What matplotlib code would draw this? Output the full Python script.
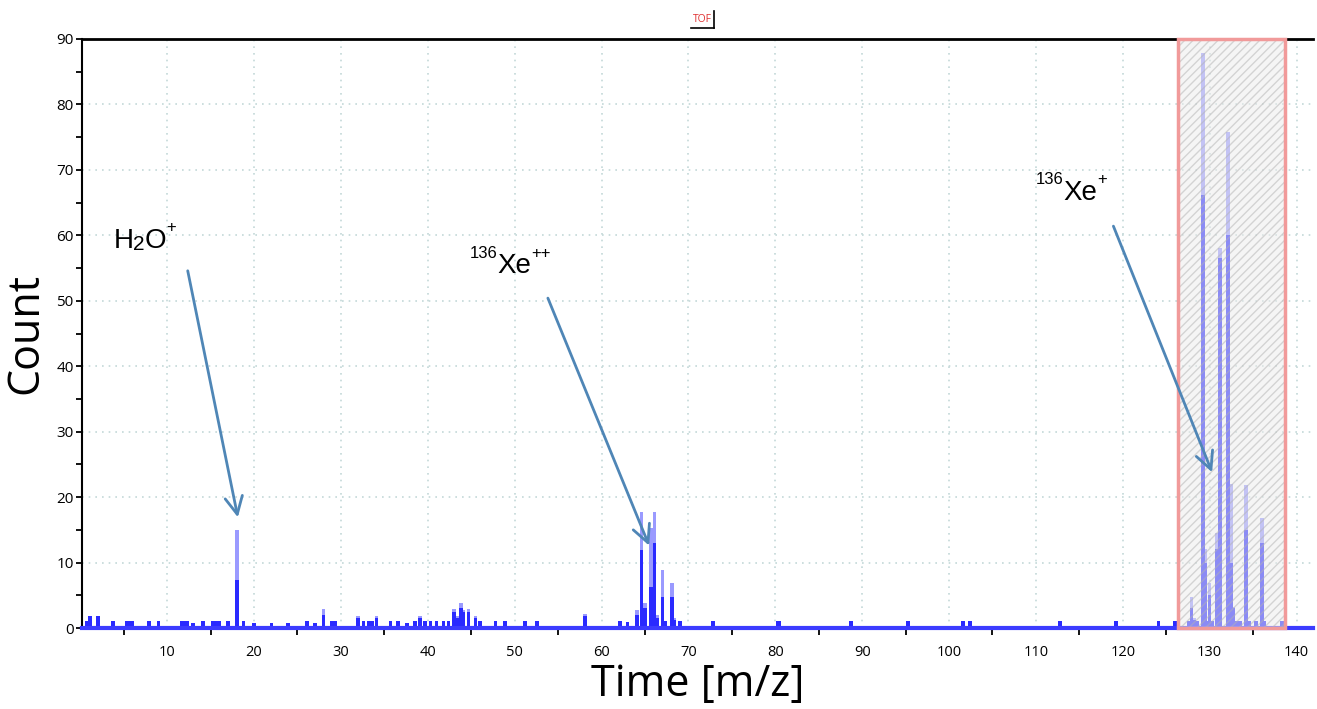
import numpy as np
import matplotlib
matplotlib.use("Agg")
import matplotlib.pyplot as plt
from matplotlib.patches import Rectangle
from matplotlib.lines import Line2D

# peak positions (m/z), full height and the darker core of each spike
peak_pos = [0.8, 1.1, 2.0, 3.8, 5.4, 5.7, 6.0, 7.9, 9.0, 11.7, 12.0, 12.3, 13.0, 14.1,
            15.2, 15.5, 15.8, 16.0, 17.0, 18.07, 18.8, 20.0, 22.0, 23.9, 26.1, 27.0,
            28.0, 29.0, 29.3, 32.0, 32.6, 33.2, 33.6, 34.1, 35.7, 36.6, 37.6, 38.5,
            39.1, 39.7, 40.3, 41.0, 41.8, 42.4, 43.0, 43.4, 43.8, 44.1, 44.7, 45.5,
            46.0, 47.8, 48.9, 51.2, 52.6, 58.1, 62.1, 63.0, 64.1, 64.6, 65.0, 65.7,
            66.1, 66.4, 67.0, 67.3, 68.1, 68.4, 69.0, 72.8, 80.3, 80.5, 88.7, 95.3,
            101.6, 102.4, 112.8, 119.2, 124.1, 126.0, 127.6, 127.9, 128.2, 128.6,
            129.2, 129.45, 129.7, 130.0, 130.3, 130.8, 131.2, 132.1, 132.5, 132.75,
            133.0, 133.5, 134.2, 134.5, 135.3, 136.0, 136.3, 138.3]
peak_height = [1.0, 1.8, 1.8, 1.0, 1.0, 1.0, 1.0, 1.0, 1.0, 1.0, 1.0, 1.0, 0.8, 1.0,
               1.0, 1.0, 1.0, 1.0, 1.0, 15.0, 1.0, 0.8, 0.8, 0.8, 1.0, 0.8,
               2.9, 1.0, 1.0, 1.8, 1.0, 1.0, 1.0, 1.8, 1.0, 1.0, 0.8, 1.0,
               1.8, 1.0, 1.0, 1.0, 1.0, 1.0, 2.9, 1.8, 3.9, 2.8, 2.9, 1.8,
               1.0, 1.0, 1.0, 1.0, 1.0, 2.2, 1.0, 0.9, 2.8, 17.8, 3.8, 15.3,
               17.8, 2.0, 8.9, 1.0, 6.9, 1.5, 1.0, 1.0, 1.0, 1.0, 1.0, 1.0,
               1.0, 1.0, 1.0, 1.0, 1.0, 1.0, 1.0, 4.8, 1.5, 1.0,
               87.8, 12.0, 1.0, 6.9, 1.0, 14.5, 58.0, 75.8, 22.0, 3.2,
               1.0, 1.0, 21.8, 1.0, 1.0, 16.8, 1.0, 1.0]
peak_core = [1.0, 1.8, 1.8, 1.0, 1.0, 1.0, 1.0, 1.0, 1.0, 1.0, 1.0, 1.0, 0.8, 1.0,
             1.0, 1.0, 1.0, 1.0, 1.0, 7.3, 1.0, 0.8, 0.8, 0.8, 1.0, 0.8,
             2.0, 1.0, 1.0, 1.5, 1.0, 1.0, 1.0, 1.5, 1.0, 1.0, 0.8, 1.0,
             1.5, 1.0, 1.0, 1.0, 1.0, 1.0, 2.5, 1.5, 3.0, 2.5, 2.5, 1.5,
             1.0, 1.0, 1.0, 1.0, 1.0, 1.8, 1.0, 0.9, 2.0, 11.9, 3.0, 6.3,
             13.0, 1.5, 4.8, 1.0, 4.8, 1.2, 1.0, 1.0, 1.0, 1.0, 1.0, 1.0,
             1.0, 1.0, 1.0, 1.0, 1.0, 1.0, 1.0, 3.0, 1.2, 1.0,
             66.2, 10.0, 1.0, 5.0, 1.0, 12.0, 56.5, 60.0, 10.0, 3.0,
             1.0, 1.0, 15.0, 1.0, 1.0, 13.0, 1.0, 1.0]

# selected region and annotations
region = (126.3, 138.7)
arrow_tail = [(12.3, 55.0), (53.7, 50.8), (118.8, 61.8)]
arrow_tip = [(18.2, 16.5), (65.6, 12.2), (130.4, 23.4)]

fig = plt.figure(figsize=(13.17, 7.09), dpi=100)
ax = fig.add_axes([0.0623, 0.1142, 0.9347, 0.8308])

tick_font = "Open Sans"
ann_font = "Liberation Sans"

ax.bar(peak_pos, peak_height, width=0.42, color="#9a9aff", linewidth=0, zorder=2)
ax.bar(peak_pos, peak_core, width=0.42, color="#2a2aff", linewidth=0, zorder=3)
ax.axhline(0, color="#3c3cff", lw=3, zorder=4, clip_on=False)

# shaded, hatched selection
ax.add_patch(Rectangle((region[0], 0), region[1] - region[0], 90,
                       facecolor=(0.93, 0.93, 0.93, 0.5), edgecolor=(0.7, 0.7, 0.7, 0.5),
                       hatch="////", lw=0, zorder=5))
ax.add_patch(Rectangle((region[0], 0), region[1] - region[0], 90, fill=False,
                       edgecolor="#f19a9a", lw=2.5, zorder=6, clip_on=False))

ax.set_xlim(0.2, 141.9)
ax.set_ylim(0, 90)
ax.set_xticks(np.arange(10, 141, 10))
ax.set_xticks(np.arange(5, 141, 10), minor=True)
ax.set_yticks(np.arange(0, 91, 10))
ax.set_yticks(np.arange(5, 90, 10), minor=True)
ax.tick_params(axis="both", which="both", direction="out", length=4, width=1.3,
               colors="black", labelsize=11, pad=2)
ax.tick_params(axis="x", which="major", length=0, pad=12, labelsize=10.5)
ax.tick_params(axis="x", which="minor", length=5)
for lab in ax.get_xticklabels() + ax.get_yticklabels():
    lab.set_fontfamily(tick_font)

ax.grid(True, which="major", linestyle=(0, (1, 3)), color="#c4d8d8", lw=1.2, zorder=0)
ax.set_axisbelow(True)

for side in ("right", "bottom"):
    ax.spines[side].set_visible(False)
ax.spines["left"].set_linewidth(1.5)
ax.spines["top"].set_linewidth(2)

ax.set_xlabel("Time [m/z]", fontsize=31, family=tick_font, labelpad=2)
ax.set_ylabel("Count", fontsize=31, family=tick_font, labelpad=6)

# annotation arrows
for tail, tip in zip(arrow_tail, arrow_tip):
    ax.annotate("", xy=tip, xytext=tail,
                arrowprops=dict(arrowstyle="->,head_length=0.9,head_width=0.45",
                                color="#4f86b6", lw=2, mutation_scale=14),
                zorder=8)

# ion labels
h = ax.text(3.8, 58.1, "H", fontsize=20, family=ann_font, zorder=9)
two = ax.annotate("2", xy=(1, 0), xycoords=h, fontsize=15, family=ann_font,
                  va="bottom", ha="left")
o = ax.annotate("O", xy=(1, 0), xycoords=two, fontsize=20, family=ann_font,
                va="bottom", ha="left")
ax.annotate("+", xy=(1, 1), xycoords=o, fontsize=12, family=ann_font,
            va="center", ha="left")

for (xx, yy), charge in [((48.0, 54.2), "++"), ((113.2, 65.4), "+")]:
    xe = ax.text(xx, yy, "Xe", fontsize=20, family=ann_font, zorder=9)
    ax.annotate("136", xy=(0, 1), xycoords=xe, fontsize=12, family=ann_font,
                va="center", ha="right")
    ax.annotate(charge, xy=(1, 1), xycoords=xe, fontsize=12, family=ann_font,
                va="center", ha="left")

# small title tag
fig.text(0.5335, 0.972, "TOF", color="#e03030", fontsize=7.5, family=tick_font,
         ha="center", va="center")
fig.add_artist(Line2D([0.5245, 0.5425], [0.9605, 0.9605], color="black", lw=1.2))
fig.add_artist(Line2D([0.5425, 0.5425], [0.9605, 0.985], color="black", lw=1.2))

fig.savefig("out.png", dpi=100)
